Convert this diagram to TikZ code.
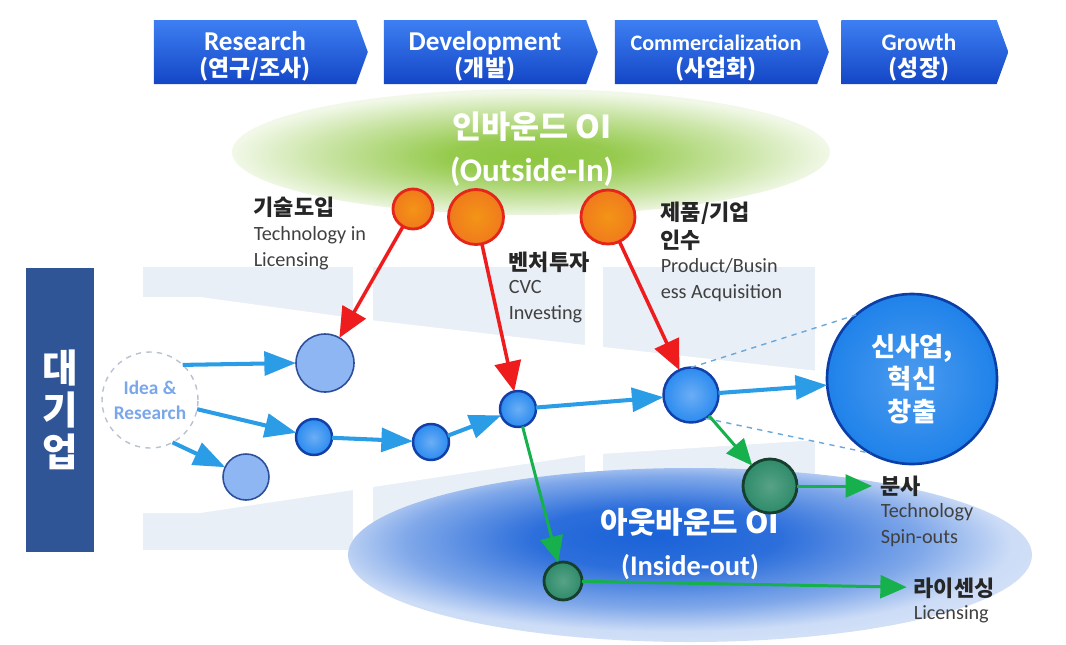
\documentclass[tikz,border=0pt]{standalone}
\usepackage{fontspec}
\setmainfont{Carlito}
\newfontfamily\kr{Noto Sans CJK KR}
\usetikzlibrary{
    arrows.meta,
    positioning,
    shapes.geometric,
    shapes.symbols
}
\definecolor{stagetop}{HTML}{3D7FF2}
\definecolor{stagebot}{HTML}{1446C6}
\definecolor{corpblue}{HTML}{2F5597}
\definecolor{columnbg}{HTML}{E9EFF7}
\definecolor{ingreen}{HTML}{8DC63F}
\definecolor{outblue}{HTML}{1A62D8}
\definecolor{ideagray}{HTML}{B8C2D0}
\definecolor{ideatext}{HTML}{7AA6EA}
\definecolor{seedfill}{HTML}{8DB6F3}
\definecolor{seeddraw}{HTML}{2D4F9A}
\definecolor{projfill}{HTML}{2B8BF0}
\definecolor{projdraw}{HTML}{1240A8}
\definecolor{goalfill}{HTML}{1F82EA}
\definecolor{goaldraw}{HTML}{0B3EA6}
\definecolor{extfill}{HTML}{F07A1C}
\definecolor{extdraw}{HTML}{E5251A}
\definecolor{spinfill}{HTML}{2E8B6A}
\definecolor{spindraw}{HTML}{173F2E}
\definecolor{flowblue}{HTML}{2A9DE6}
\definecolor{inred}{HTML}{EE1C1C}
\definecolor{outgreen}{HTML}{16B04C}
\definecolor{guideblue}{HTML}{6AA8DC}
\definecolor{titlegray}{HTML}{262626}
\definecolor{labelgray}{HTML}{404040}
\pgfdeclareradialshading{inboundshade}{\pgfpoint{0bp}{-2bp}}{%
    color(0bp)=(ingreen); color(7bp)=(ingreen!92!white);
    color(18bp)=(ingreen!45!white); color(25bp)=(ingreen!12!white);
    color(50bp)=(white)}
\pgfdeclareradialshading{outboundshade}{\pgfpoint{-3bp}{6bp}}{%
    color(0bp)=(outblue); color(9bp)=(outblue!92!white);
    color(19bp)=(outblue!55!white); color(25bp)=(outblue!22!white);
    color(50bp)=(white)}
\tikzset{
    every picture/.style = {
        x = 0.2mm,
        y = -0.2mm
    },
    every node/.style = {
        inner sep = 1pt,
        outer sep = 0pt,
        align = center
    },
    stage/.style = {
        signal, signal to = east, signal pointer angle = 140,
        minimum width = 42.8mm, minimum height = 12.8mm,
        top color = stagetop, bottom color = stagebot,
        text = white, inner sep = 0pt,
        font = \bfseries\fontsize{15.5}{15}\selectfont
    },
    corp/.style = {
        fill = corpblue, minimum width = 13.4mm, minimum height = 56.8mm,
        text = white, font = \kr\bfseries\fontsize{22}{24}\selectfont
    },
    inbound/.style = {
        ellipse, minimum width = 119.6mm, minimum height = 25.2mm,
        shade, shading = inboundshade
    },
    outbound/.style = {
        ellipse, minimum width = 136.8mm, minimum height = 34.8mm,
        shade, shading = outboundshade
    },
    oititle/.style = {
        text = white, font = \bfseries\fontsize{18.8}{24.5}\selectfont
    },
    idea/.style = {
        circle, draw = ideagray, dashed, line width = 0.8pt,
        minimum size = 19.2mm, text = ideatext,
        font = \bfseries\fontsize{11}{14}\selectfont
    },
    seed/.style = {
        circle, fill = seedfill, draw = seeddraw, line width = 0.9pt
    },
    proj/.style = {
        circle, inner color = projfill!70!white, outer color = projfill,
        draw = projdraw, line width = 1.4pt
    },
    goal/.style = {
        circle, inner color = goalfill!80!white, outer color = goalfill,
        draw = goaldraw, line width = 1.5pt,
        minimum size = 34mm, text = white,
        font = \kr\bfseries\fontsize{15}{18.5}\selectfont
    },
    ext/.style = {
        circle, inner color = extfill!80!yellow, outer color = extfill,
        draw = extdraw, line width = 1.6pt
    },
    spin/.style = {
        circle, inner color = spinfill!80!white, outer color = spinfill,
        draw = spindraw, line width = 1.6pt
    },
    krtitle/.style = {
        anchor = west, align = left, text = titlegray,
        font = \kr\bfseries\fontsize{12.5}{16}\selectfont
    },
    entext/.style = {
        anchor = north west, align = left, text = labelgray,
        font = \fontsize{11.5}{14.6}\selectfont
    },
    flow/.style = {
        color = flowblue, line width = 2.3pt,
        -{Triangle[length = 18pt, width = 13.5pt]}
    },
    inflow/.style = {
        color = inred, line width = 2pt,
        -{Triangle[length = 17pt, width = 15pt]}
    },
    outflow/.style = {
        color = outgreen, line width = 1.7pt,
        -{Triangle[length = 15pt, width = 13pt]}
    },
    guide/.style = {
        color = guideblue, dashed, line width = 0.8pt
    }
}
\newcommand{\stagesub}[1]{{\kr\fontsize{13}{15}\selectfont #1}}

\begin{document}
\begin{tikzpicture}
    \useasboundingbox (0,0) rectangle (1066,644);

    % stage columns and funnel
    \foreach \xa/\xb in {143/353, 373/585, 603/815}
        \fill[columnbg] (\xa,267) rectangle (\xb,550);
    \fill[white] (140,297) -- (200,297) -- (353,318) -- (585,345) -- (818,371)
        -- (818,440) -- (585,455) -- (353,490) -- (200,513) -- (140,513) -- cycle;

    \node[inbound] (inb) at (531,152) {};
    \node[outbound] (outb) at (690,555) {};
    \node[oititle] (inbtext) at (532,149)
        {{\kr\fontsize{18}{24.5}\selectfont 인바운드 OI}\\(Outside-In)};
    \node[oititle, font = \bfseries\fontsize{16.2}{24}\selectfont] (outbtext) at (690,544)
        {{\kr\fontsize{17}{24}\selectfont 아웃바운드 OI}\\(Inside-out)};

    % stages
    \node[stage] (research) at (255,52) {\rule{0pt}{16pt}Research\\\stagesub{(연구/조사)}};
    \node[stage] (develop) at (485,52) {\rule{0pt}{16pt}Development\\\stagesub{(개발)}};
    \node[stage, font = \bfseries\fontsize{12.6}{15}\selectfont] (commerce) at (716,52) {\rule{0pt}{16pt}Commercialization\\\stagesub{(사업화)}};
    \node[stage, minimum width = 33.4mm, font = \bfseries\fontsize{13.5}{15}\selectfont] (growth) at (919,52) {\rule{0pt}{16pt}Growth\\\stagesub{(성장)}};

    \node[corp] (corp) at (60,410) {대\\기\\업};

    % circles
    \node[idea] (idea) at (150,400) {Idea \&\\Research};
    \node[seed, minimum size = 11.6mm] (seed1) at (325,363) {};
    \node[seed, minimum size = 9.2mm] (seed2) at (246,477) {};
    \node[proj, minimum size = 7.2mm] (proj1) at (314,437) {};
    \node[proj, minimum size = 7.2mm] (proj2) at (431,442) {};
    \node[proj, minimum size = 7.2mm] (proj3) at (518,409) {};
    \node[proj, minimum size = 11mm] (proj4) at (691,395) {};
    \node[goal] (goal) at (912,379) {신사업,\\혁신\\창출};
    \node[ext, minimum size = 8mm] (ext1) at (413,209) {};
    \node[ext, minimum size = 11mm] (ext2) at (476,217) {};
    \node[ext, minimum size = 10.8mm] (ext3) at (608,217) {};
    \node[spin, minimum size = 10.8mm] (spin1) at (770,486) {};
    \node[spin, minimum size = 7.6mm] (spin2) at (563,581) {};

    % labels
    \node[krtitle] (techkr) at (252,207) {기술도입};
    \node[entext] (techen) at (252,225) {Technology in\\Licensing};
    \node[krtitle] (cvckr) at (507,262) {벤처투자};
    \node[entext] (cvcen) at (507,279) {CVC\\Investing};
    \node[krtitle] (buykr) at (659,226) {제품/기업\\인수};
    \node[entext] (buyen) at (659,257) {Product/Busin\\ess Acquisition};
    \node[krtitle] (spinkr) at (879,486) {분사};
    \node[entext] (spinen) at (879,502) {Technology\\Spin-outs};
    \node[krtitle] (lickr) at (912,588) {라이센싱};
    \node[entext] (licen) at (912,604) {Licensing};

    % connectors
    \path (proj4.90) edge[guide] (goal.131);
    \path (proj4.-58) edge[guide] (goal.241);

    \path (idea.47) edge[flow] (seed1.west);
    \path (idea.-11) edge[flow] (proj1);
    \path (idea.-62) edge[flow] (seed2);
    \path (proj1) edge[flow] (proj2);
    \path (proj2) edge[flow] (proj3);
    \path (proj3) edge[flow] (proj4);
    \path (proj4) edge[flow] (goal);

    \path (ext1) edge[inflow] (seed1);
    \path (ext2) edge[inflow] (proj3);
    \path (ext3) edge[inflow] (proj4);

    \path (proj3) edge[outflow] (spin2);
    \path (proj4) edge[outflow] (spin1);
    \path (spin1) edge[outflow, shorten > = 4pt] (spinkr);
    \path (spin2) edge[outflow, shorten > = 3pt] (lickr);
\end{tikzpicture}
\end{document}
